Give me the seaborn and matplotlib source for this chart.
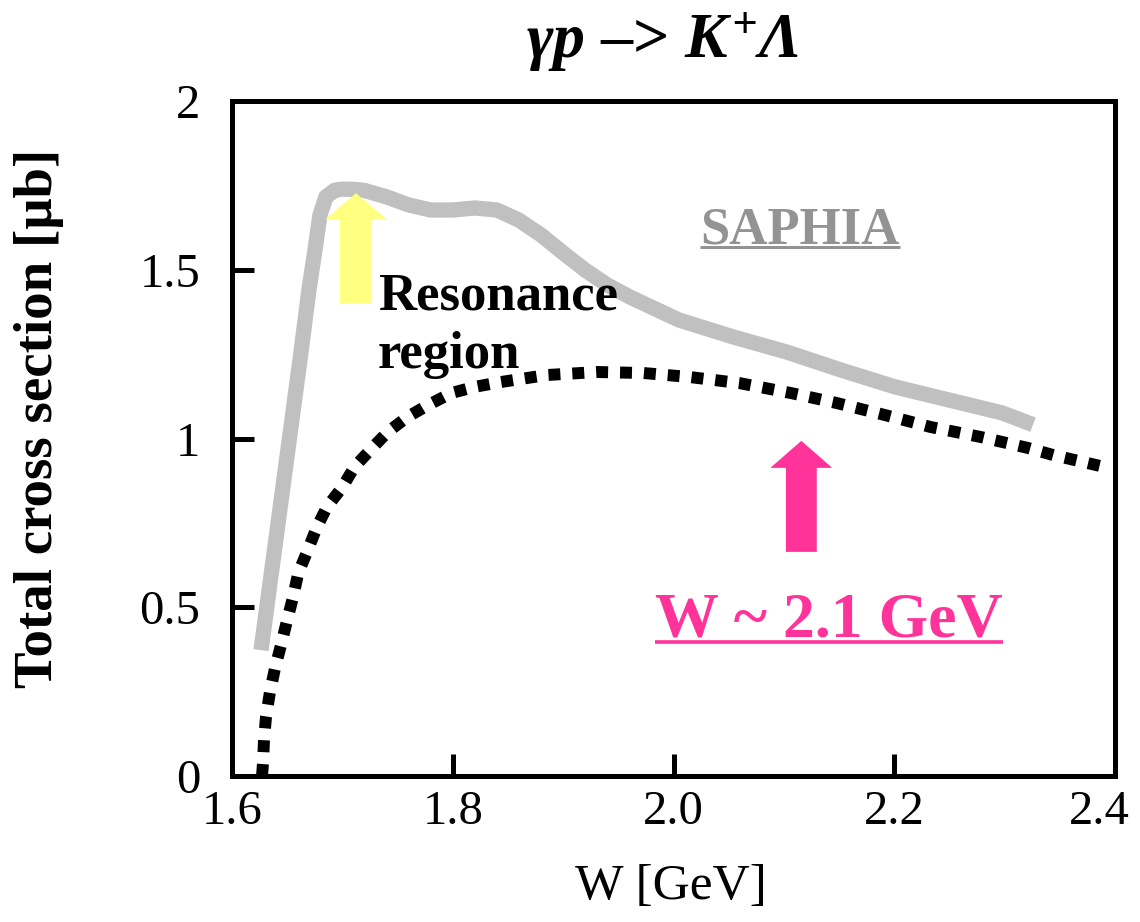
import matplotlib
matplotlib.use('Agg')
import matplotlib.pyplot as plt
import matplotlib.transforms as mtransforms
from matplotlib.patches import FancyArrow
from matplotlib.lines import Line2D
import seaborn as sns

# SAPHIR total cross section (grey band)
saphir_w = [1.6263, 1.6616, 1.6697, 1.6752, 1.6797, 1.6851, 1.6933, 1.70, 1.7114, 1.72,
            1.74, 1.76, 1.78, 1.80, 1.82, 1.84, 1.86, 1.88, 1.90, 1.92, 1.94, 1.9606,
            2.005, 2.054, 2.1028, 2.1517, 2.2007, 2.2496, 2.2976, 2.3257]
saphir_sigma = [0.373, 1.233, 1.440, 1.559, 1.662, 1.716, 1.736, 1.739, 1.738, 1.735,
                1.716, 1.692, 1.677, 1.677, 1.683, 1.677, 1.647, 1.603, 1.550, 1.499,
                1.455, 1.419, 1.351, 1.301, 1.256, 1.203, 1.153, 1.114, 1.076, 1.041]

# Model curve (dotted)
model_w = [1.6272, 1.6281, 1.629, 1.6308, 1.6344, 1.639, 1.6444, 1.650, 1.6553, 1.660,
           1.668, 1.677, 1.686, 1.700, 1.711, 1.727, 1.741, 1.759, 1.7776, 1.799,
           1.820, 1.843, 1.885, 1.931, 1.973, 2.015, 2.060, 2.106, 2.148, 2.191,
           2.233, 2.279, 2.321, 2.344, 2.386]
model_sigma = [0.0, 0.039, 0.107, 0.175, 0.249, 0.320, 0.388, 0.462, 0.530, 0.601,
               0.664, 0.738, 0.797, 0.856, 0.916, 0.972, 1.019, 1.064, 1.099, 1.135,
               1.153, 1.167, 1.188, 1.197, 1.194, 1.182, 1.164, 1.135, 1.105, 1.070,
               1.034, 1.004, 0.972, 0.951, 0.919]

x_ticks = [1.6, 1.8, 2.0, 2.2, 2.4]
x_tick_labels = ['1.6', '1.8', '2.0', '2.2', '2.4']
y_ticks = [0, 0.5, 1, 1.5, 2]
y_tick_labels = ['0', '0.5', '1', '1.5', '2']

sns.set_theme(style='white')
plt.rcParams['font.family'] = ['Liberation Serif', 'DejaVu Serif']
plt.rcParams['mathtext.fontset'] = 'custom'
plt.rcParams['mathtext.rm'] = 'Liberation Serif:italic:bold'
plt.rcParams['mathtext.it'] = 'Liberation Serif:italic:bold'
plt.rcParams['mathtext.bf'] = 'Liberation Serif:italic:bold'

fig = plt.figure(figsize=(11.4, 9.22), dpi=100)
fig.patch.set_facecolor('white')
ax = fig.add_axes([232 / 1140, 1 - 776 / 922, 883 / 1140, 675 / 922])
ax.set_facecolor('white')

sns.lineplot(x=saphir_w, y=saphir_sigma, ax=ax, color='#c0c0c0', linewidth=11,
             estimator=None, sort=False, solid_capstyle='butt', solid_joinstyle='round')
sns.lineplot(x=model_w, y=model_sigma, ax=ax, color='black', linewidth=8.6,
             linestyle=(0, (1, 1)), dash_capstyle='butt', estimator=None, sort=False)

ax.set_xlim(1.6, 2.4)
ax.set_ylim(0, 2)
ax.set_xticks(x_ticks)
ax.set_xticklabels(x_tick_labels)
ax.set_yticks(y_ticks)
ax.set_yticklabels(y_tick_labels)
ax.grid(False)
for s in ax.spines.values():
    s.set_visible(True)
    s.set_color('black')
    s.set_linewidth(3.6)
ax.tick_params(axis='both', direction='in', length=16, width=3.6, color='black',
               labelsize=35, labelcolor='black')
ax.tick_params(axis='x', pad=10, bottom=True, top=False)
ax.tick_params(axis='y', pad=23, left=True, right=False)

# last x tick label sits slightly inside the figure edge
last_lab = ax.get_xticklabels()[-1]
last_lab.set_transform(last_lab.get_transform() +
                       mtransforms.ScaledTranslation(-0.16, 0, fig.dpi_scale_trans))

ax.set_ylabel('Total cross section [μb]', fontsize=39.5, fontweight='bold', color='black')
ax.yaxis.set_label_coords(-0.19, 0.53)
ax.set_xlabel('W [GeV]', fontsize=37, color='black')
ax.xaxis.set_label_coords(0.497, -0.13)

# arrows
ax.add_patch(FancyArrow(1.7123, 1.401, 0, 1.727 - 1.401, width=0.029, head_width=0.0553,
                        head_length=0.077, length_includes_head=True,
                        color='#ffff80', lw=0, zorder=3))
ax.add_patch(FancyArrow(2.1158, 0.664, 0, 0.993 - 0.664, width=0.028, head_width=0.056,
                        head_length=0.08, length_includes_head=True,
                        color='#ff3399', lw=0, zorder=3))

# texts
ax.text(1.7322, 1.381, 'Resonance', fontsize=38, fontweight='bold', color='black',
        ha='left', va='baseline', zorder=4)
ax.text(1.7322, 1.209, 'region', fontsize=38, fontweight='bold', color='black',
        ha='left', va='baseline', zorder=4)
t_saphia = ax.text(2.1145, 1.579, 'SAPHIA', fontsize=38, fontweight='bold', color='#939393',
                   ha='center', va='baseline', zorder=4)
t_w = ax.text(2.1408, 0.412, 'W ~ 2.1 GeV', fontsize=46, fontweight='bold', color='#ff3399',
              ha='center', va='baseline', zorder=4)

fig.text(0.581, 1 - 58 / 922, r'$\gamma p$ –> $K^{+}\Lambda$', ha='center', va='baseline',
         fontsize=46, fontweight='bold', color='black')

# underlines
fig.canvas.draw()
renderer = fig.canvas.get_renderer()
ident = mtransforms.IdentityTransform()
for t, off, lw, col in [(t_saphia, 4, 2.2, '#939393'), (t_w, 5, 2.6, '#ff3399')]:
    bb = t.get_window_extent(renderer)
    base_y = ax.transData.transform(t.get_position())[1]
    fig.add_artist(Line2D([bb.x0, bb.x1], [base_y - off, base_y - off], transform=ident,
                          color=col, linewidth=lw, solid_capstyle='butt'))

fig.savefig('out.png', dpi=100, facecolor='white')
